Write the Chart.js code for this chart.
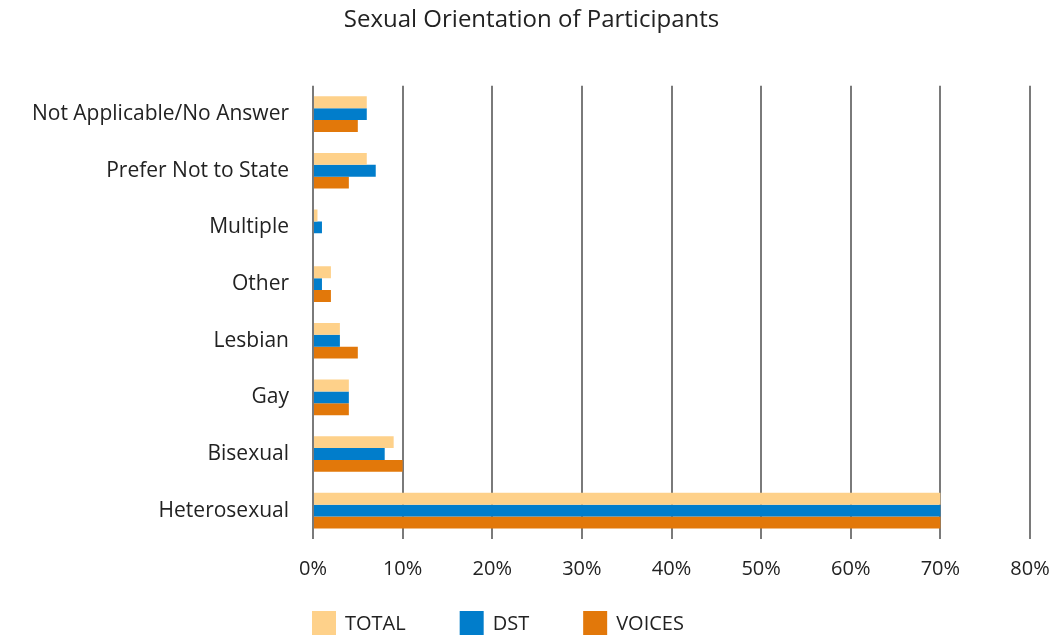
<!DOCTYPE html>
<html>
<head>
<meta charset="utf-8">
<script src="https://cdn.jsdelivr.net/npm/chart.js@4.4.1/dist/chart.umd.min.js"></script>
<style>
html,body{margin:0;padding:0;background:#fff;}
#wrap{width:1057px;height:637px;position:relative;}
</style>
</head>
<body>
<div id="wrap"><canvas id="c" width="1057" height="637"></canvas></div>
<script>
const categories = ['Not Applicable/No Answer','Prefer Not to State','Multiple','Other','Lesbian','Gay','Bisexual','Heterosexual'];
const totalValues  = [6, 6, 0.5, 2, 3, 4, 9, 70];
const dstValues    = [6, 7, 1, 1, 3, 4, 8, 70];
const voicesValues = [5, 4, 0, 2, 5, 4, 10, 70];
const seriesNames = ['TOTAL', 'DST', 'VOICES'];
const xTicks = [0, 10, 20, 30, 40, 50, 60, 70, 80];

const FONT = "'Open Sans', sans-serif";
const colors = ['#FED18A', '#017DCB', '#E2780A'];

const legendPlugin = {
  id: 'customLegend',
  afterDraw(chart) {
    const ctx = chart.ctx;
    const y = 623;
    let x = chart.chartArea.left - 1;
    ctx.save();
    ctx.font = "20px " + FONT;
    ctx.textBaseline = 'middle';
    chart.data.datasets.forEach((ds, i) => {
      ctx.fillStyle = ds.backgroundColor;
      ctx.fillRect(x, y - 12, 24, 24);
      ctx.fillStyle = '#222';
      ctx.fillText(ds.label, x + 33, y + 1);
      x += 33 + ctx.measureText(ds.label).width + 54;
    });
    ctx.restore();
  }
};

new Chart(document.getElementById('c'), {
  type: 'bar',
  data: {
    labels: categories,
    datasets: [
      { label: seriesNames[0], data: totalValues, backgroundColor: colors[0] },
      { label: seriesNames[1], data: dstValues, backgroundColor: colors[1] },
      { label: seriesNames[2], data: voicesValues, backgroundColor: colors[2] }
    ]
  },
  options: {
    indexAxis: 'y',
    responsive: false,
    animation: false,
    devicePixelRatio: 1,
    categoryPercentage: 0.63,
    barPercentage: 1,
    layout: { padding: { left: 10, right: 4, top: 4, bottom: 38 } },
    plugins: {
      legend: { display: false },
      tooltip: { enabled: false },
      title: {
        display: true,
        text: 'Sexual Orientation of Participants',
        color: '#222',
        font: { family: FONT, size: 24, weight: 'normal' },
        padding: { top: 2, bottom: 51 }
      }
    },
    scales: {
      x: {
        min: 0, max: 80,
        afterBuildTicks(axis) { axis.ticks = xTicks.map(v => ({ value: v })); },
        afterFit(axis) { axis.paddingRight = 27; axis.paddingLeft = 0; },
        ticks: {
          callback: v => v + '%',
          color: '#222',
          font: { family: FONT, size: 20 },
          padding: 18,
          maxRotation: 0
        },
        grid: { color: '#7a7a7a', lineWidth: 2, drawTicks: false },
        border: { display: false }
      },
      y: {
        afterFit(axis) { axis.width = 303; },
        ticks: {
          color: '#222',
          font: { family: FONT, size: 21 },
          padding: 24
        },
        grid: { display: false, drawTicks: false },
        border: { display: false }
      }
    }
  },
  plugins: [legendPlugin]
});
</script>
</body>
</html>
